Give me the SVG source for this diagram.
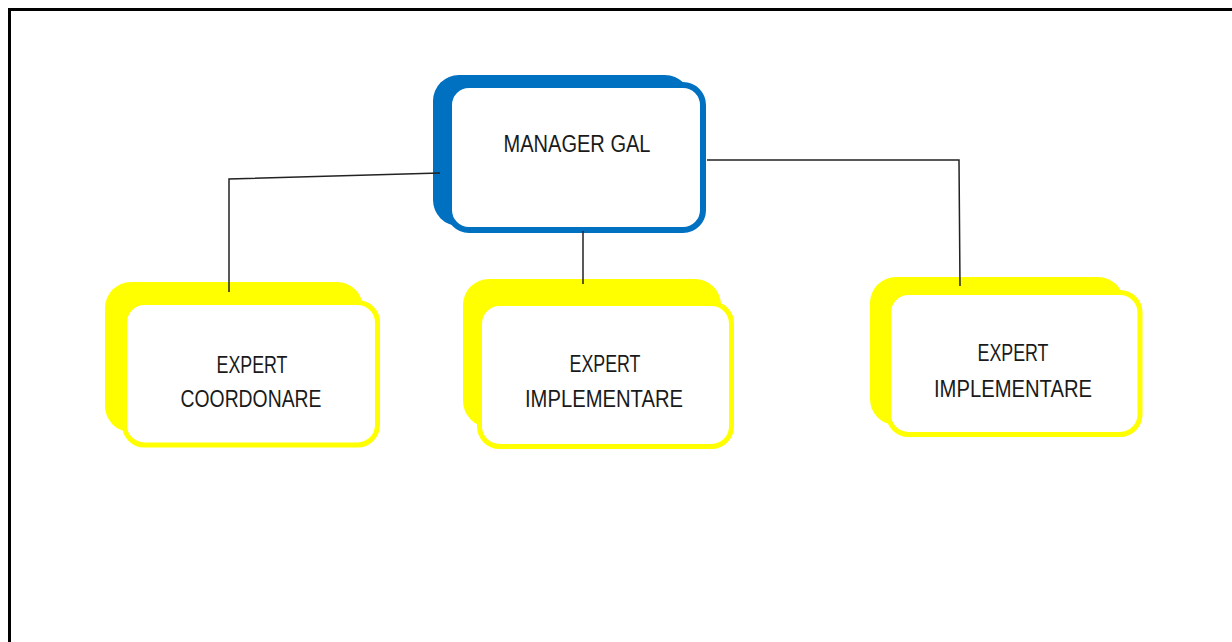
<svg xmlns="http://www.w3.org/2000/svg" width="1232" height="642" viewBox="0 0 1232 642">
<style>
.back-b{fill:#0070C0;}
.front-b{fill:#fff;stroke:#0070C0;stroke-width:6;}
.back-y{fill:#FFFF00;}
.front-y{fill:#fff;stroke:#FFFF00;stroke-width:5;}
.lbl{font-family:"Liberation Sans",Arial,sans-serif;font-size:23px;fill:#1a1a1a;text-anchor:middle;}
.conn{fill:none;stroke:#222;stroke-width:1.5;}
</style>
<rect width="1232" height="642" fill="#fff"/>
<path d="M9.5,642 V9.5 H1232" fill="none" stroke="#000" stroke-width="3"/>
<g id="manager">
<rect class="back-b" x="433" y="75" width="258" height="151" rx="26"/>
<rect class="front-b" x="449" y="85" width="254" height="145" rx="20"/>
<text class="lbl" x="577" y="152" textLength="147" lengthAdjust="spacingAndGlyphs">MANAGER GAL</text>
</g>
<g id="expert-coordonare">
<rect class="back-y" x="105" y="282" width="258" height="150" rx="26"/>
<rect class="front-y" x="124.5" y="302.5" width="253" height="142.5" rx="20"/>
<text class="lbl" x="252" y="373" textLength="71" lengthAdjust="spacingAndGlyphs">EXPERT</text>
<text class="lbl" x="251" y="407" textLength="141" lengthAdjust="spacingAndGlyphs">COORDONARE</text>
</g>
<g id="expert-implementare-1">
<rect class="back-y" x="463" y="279" width="258" height="148" rx="26"/>
<rect class="front-y" x="479.5" y="303.5" width="252" height="143" rx="20"/>
<text class="lbl" x="605" y="372" textLength="71" lengthAdjust="spacingAndGlyphs">EXPERT</text>
<text class="lbl" x="604" y="407" textLength="158" lengthAdjust="spacingAndGlyphs">IMPLEMENTARE</text>
</g>
<g id="expert-implementare-2">
<rect class="back-y" x="870" y="277" width="254" height="148" rx="26"/>
<rect class="front-y" x="888.5" y="292.5" width="251.5" height="142" rx="20"/>
<text class="lbl" x="1013" y="361" textLength="71" lengthAdjust="spacingAndGlyphs">EXPERT</text>
<text class="lbl" x="1013" y="397" textLength="158" lengthAdjust="spacingAndGlyphs">IMPLEMENTARE</text>
</g>
<g id="connectors">
<polyline class="conn" points="440,173 229,179 229,292"/>
<line class="conn" x1="583" y1="231" x2="583" y2="284"/>
<polyline class="conn" points="707,160 959,160 960,286"/>
</g>
</svg>
